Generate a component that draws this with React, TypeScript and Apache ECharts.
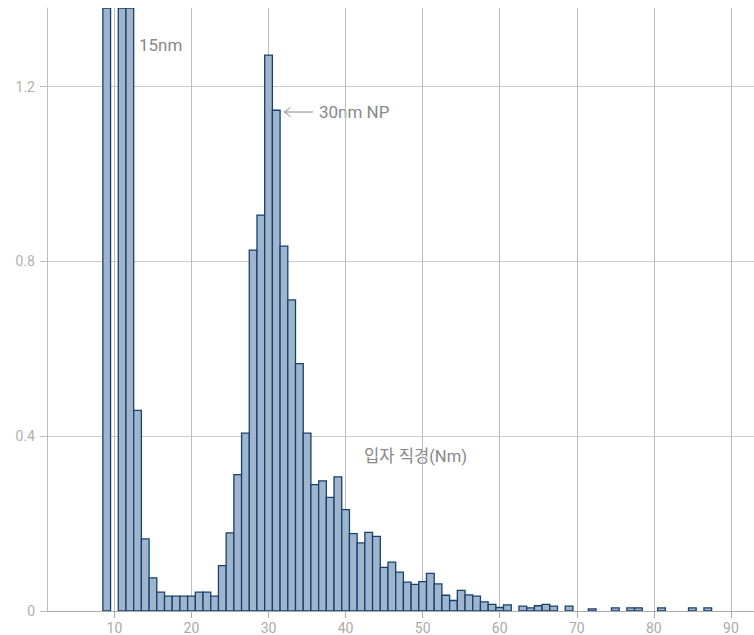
import React, { useEffect, useRef } from "react";
import * as echarts from "echarts";

// Particle diameter bins (nm, bin centres) and their values
const binCenters = [
  9, 11, 12, 13, 14, 15, 16, 17, 18, 19, 20, 21, 22, 23, 24, 25, 26, 27, 28, 29,
  30, 31, 32, 33, 34, 35, 36, 37, 38, 39, 40, 41, 42, 43, 44, 45, 46, 47, 48, 49,
  50, 51, 52, 53, 54, 55, 56, 57, 58, 59, 60, 61, 63, 64, 65, 66, 67, 69, 72, 75,
  77, 78, 81, 85, 87,
];
const binValues = [
  1.8, 2.6, 1.9, 0.459, 0.165, 0.076, 0.043, 0.034, 0.034, 0.034, 0.034, 0.043, 0.043, 0.034, 0.104, 0.179, 0.312, 0.407, 0.826, 0.906,
  1.272, 1.146, 0.835, 0.712, 0.566, 0.407, 0.289, 0.298, 0.26, 0.307, 0.232, 0.177, 0.156, 0.18, 0.171, 0.1, 0.112, 0.089, 0.066, 0.061,
  0.067, 0.086, 0.062, 0.036, 0.024, 0.047, 0.037, 0.034, 0.021, 0.015, 0.008, 0.014, 0.011, 0.007, 0.012, 0.015, 0.011, 0.011, 0.005, 0.007,
  0.007, 0.007, 0.007, 0.007, 0.007,
];
const xTicks = [10, 20, 30, 40, 50, 60, 70, 80, 90];
const yTicks = [0, 0.4, 0.8, 1.2];
const binWidth = 1;

const annotations = {
  peak15: "15nm",
  peak30: "30nm NP",
  axisName: "입자 직경(Nm)",
};

export default function App() {
  const ref = useRef<HTMLDivElement>(null);
  useEffect(() => {
    document.body.style.margin = "0";
    if (!ref.current) return;
    const chart = echarts.init(ref.current, undefined, { renderer: "svg" });
    const data = binCenters.map((c, i) => [c, binValues[i]]);
    const textColor = "#888";
    chart.setOption({
      animation: false,
      backgroundColor: "#fff",
      grid: { left: 47, right: 0, top: 8, bottom: 22, containLabel: false },
      xAxis: {
        type: "value",
        min: 1.25,
        max: 93,
        axisLine: { show: true, onZero: false, lineStyle: { color: "#aaa", width: 1 } },
        axisTick: { show: true, length: 7, customValues: xTicks, lineStyle: { color: "#aaa" } },
        axisLabel: { customValues: xTicks, color: "#aaa", fontSize: 14, margin: 10, fontFamily: "Roboto" },
        splitLine: { show: true, lineStyle: { color: "#bdbdbd", width: 1 } },
      },
      yAxis: {
        type: "value",
        min: 0,
        max: 1.38,
        axisLine: { show: true, lineStyle: { color: "#bdbdbd", width: 1 } },
        axisTick: { show: true, length: 7, customValues: yTicks, lineStyle: { color: "#bdbdbd" } },
        axisLabel: { customValues: yTicks, color: "#b0b0b0", fontSize: 14, margin: 12, fontFamily: "Roboto" },
        splitLine: { show: true, lineStyle: { color: "#cccccc", width: 1 } },
      },
      series: [
        {
          type: "custom",
          data,
          encode: { x: 0, y: 1 },
          clip: true,
          renderItem: (params: any, api: any) => {
            const x = api.value(0);
            const y = api.value(1);
            const p0 = api.coord([x - binWidth / 2, y]);
            const p1 = api.coord([x + binWidth / 2, 0]);
            const cs = params.coordSys;
            const shape = echarts.graphic.clipRectByRect(
              { x: p0[0], y: p0[1], width: p1[0] - p0[0], height: p1[1] - p0[1] },
              { x: cs.x, y: cs.y, width: cs.width, height: cs.height }
            );
            if (!shape) return null;
            return {
              type: "rect",
              shape,
              style: { fill: "#9fb5ce", stroke: "#17416c", lineWidth: 1.3 },
            };
          },
        },
      ],
      graphic: [
        {
          type: "text",
          left: 139,
          top: 36,
          style: { text: annotations.peak15, fill: textColor, fontSize: 17, fontFamily: "Roboto" },
        },
        {
          type: "text",
          left: 319,
          top: 103,
          style: { text: annotations.peak30, fill: textColor, fontSize: 17, fontFamily: "Roboto" },
        },
        {
          type: "line",
          shape: { x1: 284.5, y1: 112, x2: 313, y2: 112 },
          style: { stroke: textColor, lineWidth: 1 },
        },
        {
          type: "polyline",
          shape: { points: [[290.5, 107.5], [284.5, 112], [290.5, 116.5]] },
          style: { stroke: textColor, lineWidth: 1, fill: "none" },
        },
        {
          type: "text",
          left: 364,
          top: 448,
          style: { text: annotations.axisName, fill: textColor, fontSize: 16.6, fontFamily: "Roboto, 'Noto Sans CJK KR'" },
        },
      ],
    });
    return () => chart.dispose();
  }, []);
  return <div ref={ref} style={{ width: 754, height: 635, position: "absolute", left: 0, top: 0 }} />;
}
